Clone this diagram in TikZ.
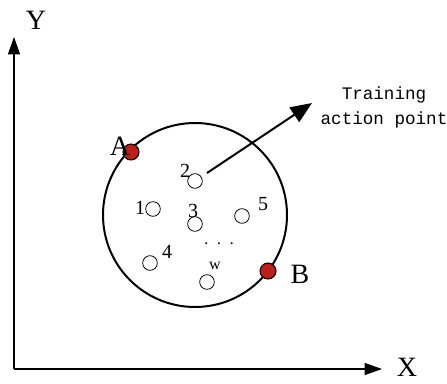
\documentclass[tikz,border=0pt]{standalone}
\usepackage{fontspec}
\setmainfont{Liberation Serif}
\setmonofont{Liberation Mono}
\usepackage{tikz}
\usetikzlibrary{arrows.meta,positioning}
\definecolor{dotred}{RGB}{190,30,25}

\begin{document}
\begin{tikzpicture}[
      x=0.75pt, y=-0.75pt, >={Triangle[length=13pt,width=9pt]},
      axis/.style={line width=0.8pt, ->},
      zone/.style={draw, circle, line width=1.5pt, minimum size=138pt, inner sep=0pt},
      agent/.style={draw, circle, line width=0.6pt, fill=white, minimum size=11pt, inner sep=0pt},
      endpt/.style={draw, circle, line width=0.8pt, fill=dotred, minimum size=12pt, inner sep=0pt},
      axlab/.style={font=\fontsize{21}{23}\selectfont, inner sep=0pt},
      num/.style={font=\fontsize{15}{17}\selectfont, inner sep=0pt},
    ]
    \useasboundingbox (0,0) rectangle (447,383);

    % axes
    \coordinate (O) at (14,369);
    \coordinate (ytip) at (14,37);
    \coordinate (xtip) at (382,369);
    \draw[axis] (O) -- (ytip);
    \draw[axis] (O) -- (xtip);
    \node[axlab] (ylab) at (36,20) {Y};
    \node[axlab] (xlab) at (407,367) {X};

    % training area
    \node[zone] (area) at (195,215) {};

    \node[agent] (p1) at (153,209) {};
    \node[agent] (p2) at (195,181) {};
    \node[agent] (p3) at (195,224) {};
    \node[agent] (p4) at (150,263) {};
    \node[agent] (p5) at (242,216) {};
    \node[agent] (pw) at (207,282) {};
    \node[num] (l1) at (140,208) {1};
    \node[num] (l2) at (185,171) {2};
    \node[num] (l3) at (193,211) {3};
    \node[num] (l4) at (167,252) {4};
    \node[num] (l5) at (263,204) {5};
    \node[font=\fontsize{12}{14}\selectfont, inner sep=0pt] (lw) at (215,266) {w};
    \node[font=\fontsize{15}{17}\selectfont, inner sep=0pt] (dots) at (219,244) {$\cdot\,\cdot\,\cdot$};

    % boundary points
    \node[endpt] (A) at (131,152) {};
    \node[endpt] (B) at (268,271) {};
    \node[axlab] (alab) at (120,146) {A};
    \node[axlab] (blab) at (300,274) {B};

    % action point arrow
    \node[font=\ttfamily\fontsize{13.2}{18.75}\selectfont, align=center, inner sep=0pt]
      (train) at (384,107) {Training\\action point};
    \coordinate (tstart) at (207,173);
    \coordinate (ttip) at (312,103);
    \draw[line width=1.5pt, -{Triangle[length=16pt,width=13pt]}] (tstart) -- (ttip);
  \end{tikzpicture}
\end{document}
